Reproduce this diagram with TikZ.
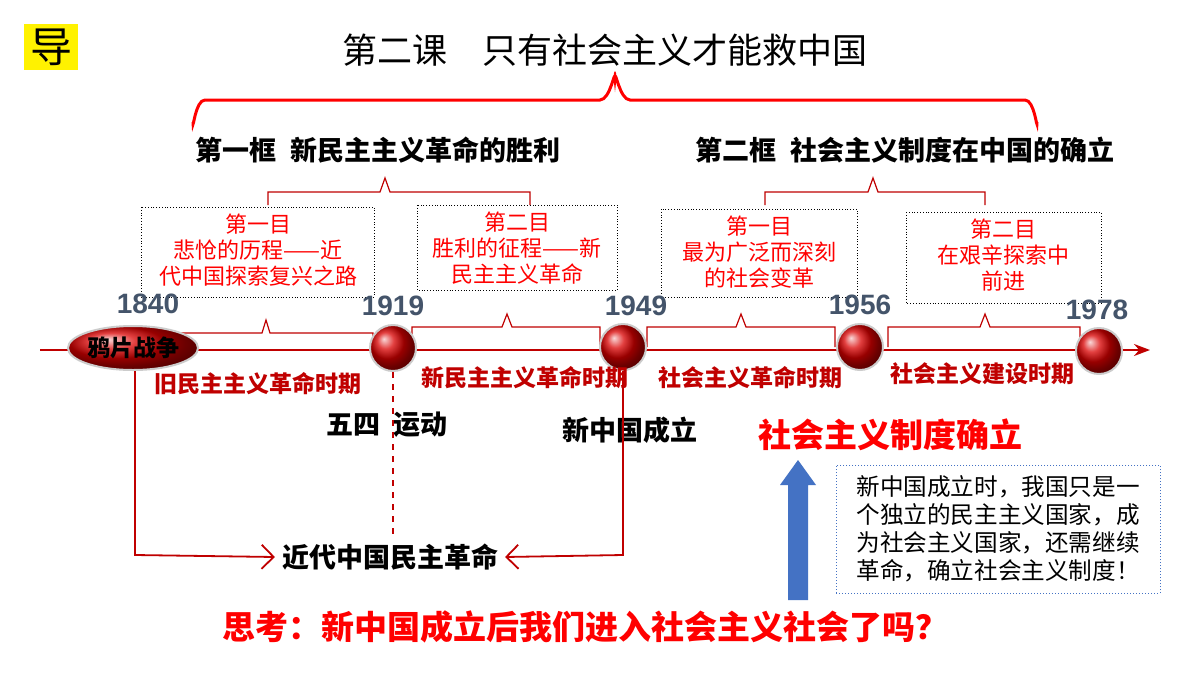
\documentclass[tikz,border=0pt]{standalone}
\usepackage{fontspec}
\setmainfont{Noto Sans CJK SC}
\newfontfamily\arialf{Liberation Sans}
\usetikzlibrary{arrows.meta,shapes.geometric}
\definecolor{dred}{HTML}{C00000}
\definecolor{yr}{HTML}{44546A}
\definecolor{bblue}{HTML}{4472C4}
\begin{document}
\begin{tikzpicture}[x=0.5pt,y=-0.5pt,
  br/.style={draw=dred,line width=0.6pt},
  dbox/.style={draw=black,densely dotted,line width=0.4pt},
  box/.style={text=red,font=\fontsize{11}{13}\selectfont,align=center},
  yr/.style={font=\arialf\bfseries\fontsize{14}{14}\selectfont,text=yr},
  per/.style={font=\bfseries\fontsize{11.5}{12}\selectfont,text=dred},
  blk/.style={font=\bfseries\fontsize{13.5}{14}\selectfont},
  ball/.style={circle,minimum size=23pt,inner sep=0pt,shade,ball color=red!85!black,draw=gray!40,line width=1pt},
  ln/.style={draw=dred,line width=0.9pt}]
\useasboundingbox (0,0) rectangle (1200,675);
\fill[white] (0,0) rectangle (1200,675);
% header
\node[fill=yellow,minimum width=27pt,minimum height=23pt,inner sep=0pt,font=\fontsize{21}{21}\selectfont] (dao) at (51,47) {导};
\node[font=\fontsize{17.5}{18}\selectfont] (title) at (605,50) {第二课\quad 只有社会主义才能救中国};
\draw[draw=red,line width=1.5pt] (193,122) to[out=-90,in=180] (205,100) -- (600,100) to[out=0,in=90] (615,78) to[out=90,in=180] (630,100) -- (1025,100) to[out=0,in=-90] (1037,122);
\node[font=\bfseries\fontsize{13.5}{14}\selectfont] (k1) at (378,150) {第一框\enspace 新民主主义革命的胜利};
\node[font=\bfseries\fontsize{13.5}{14}\selectfont] (k2) at (905,150) {第二框\enspace 社会主义制度在中国的确立};
% small braces
\draw[br] (268,205) -- (268,192) -- (380,192) -- (385,178) -- (390,192) -- (530,192) -- (530,205);
\draw[br] (765,205) -- (765,192) -- (868,192) -- (873,178) -- (878,192) -- (985,192) -- (985,205);
% dotted boxes
\draw[dbox] (141,207) rectangle (374,297);
\draw[dbox] (417,205) rectangle (617,290);
\draw[dbox] (661,209) rectangle (857,297);
\draw[dbox] (906,212) rectangle (1101,303);
\node[box] (m1) at (258,250) {第一目\\悲怆的历程——近\\代中国探索复兴之路};
\node[box] (m2) at (517,248) {第二目\\胜利的征程——新\\民主主义革命};
\node[box] (m3) at (759,252) {第一目\\最为广泛而深刻\\的社会变革};
\node[box] (m4) at (1003,255) {第二目\\在艰辛探索中\\前进};
% timeline
\draw[draw=dred,line width=1pt,-{Stealth[length=8pt]}] (40,350) -- (1150,350);
\node[yr] (y1) at (148,304) {1840};
\node[yr] (y2) at (393,306) {1919};
\node[yr] (y3) at (636,306) {1949};
\node[yr] (y4) at (860,305) {1956};
\node[yr] (y5) at (1097,310) {1978};
% under-year braces
\draw[br] (158,347) -- (158,333) -- (262,333) -- (266,320) -- (270,333) -- (373,333) -- (373,347);
\draw[br] (412,347) -- (412,327) -- (502,327) -- (507,314) -- (512,327) -- (600,327) -- (600,347);
\draw[br] (647,347) -- (647,327) -- (736,327) -- (741,314) -- (746,327) -- (835,327) -- (835,347);
\draw[br] (888,347) -- (888,327) -- (980,327) -- (985,314) -- (990,327) -- (1080,327) -- (1080,347);
% ellipse & balls
\node[ellipse,minimum width=65pt,minimum height=22pt,inner sep=0pt,shade,ball color=red!85!black,draw=gray!40,line width=1pt,font=\bfseries\fontsize{11.5}{11}\selectfont] (yp) at (133,348) {鸦片战争};
\node[ball] (b1) at (393,348) {};
\node[ball] (b2) at (623,347) {};
\node[ball] (b3) at (860,347) {};
\node[ball] (b4) at (1099,351) {};
% period labels
\node[per] (p1) at (258,384) {旧民主主义革命时期};
\node[per] (p2) at (525,378) {新民主主义革命时期};
\node[per] (p3) at (750,378) {社会主义革命时期};
\node[per] (p4) at (982,374) {社会主义建设时期};
\node[blk] (ws) at (387,425) {五四\enspace 运动};
\node[blk] (xz) at (630,430) {新中国成立};
\node[font=\bfseries\fontsize{16.5}{17}\selectfont,text=red] (sz) at (890,435) {社会主义制度确立};
\node[blk] (jd) at (390,557) {近代中国民主革命};
% connectors
\coordinate (c1) at (135,555);
\coordinate (c2) at (623,555);
\draw[ln,-{Straight Barb[length=6pt]}] (yp.south -| c1) -- (c1) -- (jd.west);
\draw[ln,-{Straight Barb[length=6pt]}] (b2.south) -- (c2) -- (jd.east);
\draw[ln,dashed] (b1.south) -- (jd.north -| b1);
% blue arrow
\fill[bblue] (788,600) -- (788,485) -- (780,485) -- (798,460) -- (816,485) -- (808,485) -- (808,600) -- cycle;
\node[draw=bblue,densely dotted,line width=0.5pt,minimum width=162pt,minimum height=64pt,inner sep=0pt] (nb) at (998,529) {};
\node[align=left,font=\fontsize{11.8}{14}\selectfont] (nt) at (nb.center) {新中国成立时，我国只是一\\个独立的民主主义国家，成\\为社会主义国家，还需继续\\革命，确立社会主义制度！};
\node[font=\bfseries\fontsize{16.5}{17}\selectfont,text=red] (sk) at (585,627) {思考：新中国成立后我们进入社会主义社会了吗？};
\end{tikzpicture}
\end{document}
